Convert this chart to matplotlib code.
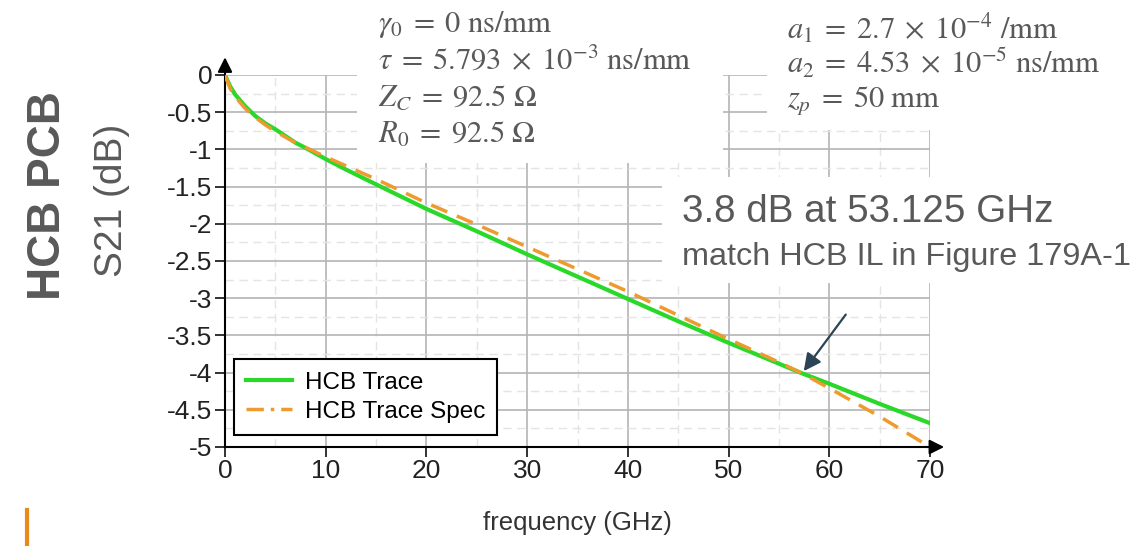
import numpy as np
import matplotlib
matplotlib.use("Agg")
import matplotlib.pyplot as plt
from matplotlib.patches import Rectangle
from matplotlib.lines import Line2D

plt.rcParams['font.family'] = ['Liberation Sans', 'DejaVu Sans']
plt.rcParams['mathtext.fontset'] = 'stix'

# data
freq_trace = [0, 0.5, 1, 1.5, 2, 3, 4, 5, 6, 7, 8, 10, 12, 15, 20, 25, 30, 35, 40, 45, 50, 55, 57.3, 60, 65, 70]
s21_trace = [0, -0.15, -0.26, -0.34, -0.42, -0.55, -0.65, -0.73, -0.82, -0.91, -0.98, -1.13, -1.27, -1.47,
             -1.80, -2.10, -2.41, -2.71, -3.01, -3.31, -3.60, -3.88, -4.01, -4.15, -4.42, -4.68]
freq_spec = [0, 0.5, 1, 2, 3, 4, 5, 7, 10, 15, 20, 25, 30, 35, 40, 45, 50, 55, 57.3, 60, 65, 70]
s21_spec = [0, -0.18, -0.29, -0.45, -0.57, -0.67, -0.76, -0.91, -1.10, -1.40, -1.72, -2.01, -2.31, -2.61,
            -2.91, -3.23, -3.55, -3.86, -4.01, -4.21, -4.59, -5.00]
xticks = [0, 10, 20, 30, 40, 50, 60, 70]
yticks = [0, -0.5, -1, -1.5, -2, -2.5, -3, -3.5, -4, -4.5, -5]
ytick_labels = ['0', '-0.5', '-1', '-1.5', '-2', '-2.5', '-3', '-3.5', '-4', '-4.5', '-5']

eq_left = [r'$\gamma_0 \;=\; 0\ \mathrm{ns/mm}$',
           r'$\tau \;=\; 5.793 \;\times\; 10^{-3}\ \mathrm{ns/mm}$',
           r'$Z_C \;=\; 92.5\ \Omega$',
           r'$R_0 \;=\; 92.5\ \Omega$']
eq_right = [r'$a_1 \;=\; 2.7 \;\times\; 10^{-4}\ \mathrm{/mm}$',
            r'$a_2 \;=\; 4.53 \;\times\; 10^{-5}\ \mathrm{ns/mm}$',
            r'$z_p \;=\; 50\ \mathrm{mm}$']

W, H = 1148, 546
fig = plt.figure(figsize=(W / 100, H / 100), dpi=100)
ax = fig.add_axes([225 / W, 1 - 447 / H, 705 / W, 372 / H])

green = '#2ad82a'
orange = '#ee9a2e'
grey = '#595959'

ax.plot(freq_trace, s21_trace, color=green, lw=3, zorder=3, label='HCB Trace')
ax.plot(freq_spec, s21_spec, color=orange, lw=2.5, ls=(0, (5, 3)), zorder=4)

ax.set_xlim(0, 70)
ax.set_ylim(-5, 0)
ax.set_xticks(xticks)
ax.set_xticks(np.arange(5, 70, 10), minor=True)
ax.set_yticks(yticks)
ax.set_yticklabels(ytick_labels)
ax.set_yticks(np.arange(-4.75, 0, 0.5), minor=True)
ax.tick_params(axis='both', which='major', labelsize=19, length=7, width=1.3, colors='#222222', pad=2)
ax.tick_params(axis='both', which='minor', length=0)
ax.set_axisbelow(True)
ax.grid(which='major', color='#b4b4b4', lw=1.2)
ax.grid(which='minor', color='#e4e4e4', lw=1, ls=(0, (6, 4)))
for s in ['top', 'right']:
    ax.spines[s].set_visible(False)
for s in ['left', 'bottom']:
    ax.spines[s].set_linewidth(1.5)

# axis arrows
ax.annotate('', xy=(0, 1.055), xytext=(0, 0.99), xycoords='axes fraction',
            arrowprops=dict(arrowstyle='-|>', color='k', lw=1.5, mutation_scale=22), annotation_clip=False)
ax.annotate('', xy=(1.024, 0), xytext=(0.99, 0), xycoords='axes fraction',
            arrowprops=dict(arrowstyle='-|>', color='k', lw=1.5, mutation_scale=22), annotation_clip=False)

# legend
h1 = Line2D([], [], color=green, lw=3)
h2 = Line2D([], [], color=orange, lw=2.5, ls=(0, (5, 2, 1, 2)))
leg = ax.legend([h1, h2], ['HCB Trace', 'HCB Trace Spec'], loc='lower left', bbox_to_anchor=(0.013, 0.032),
                borderaxespad=0, fontsize=17.5, frameon=True, fancybox=False, handlelength=1.9,
                handletextpad=0.5, borderpad=0.5, labelspacing=0.3, framealpha=1)
leg.get_frame().set_edgecolor('k')
leg.get_frame().set_linewidth(1.5)
leg.set_zorder(6)

# white boxes hiding the grid behind the text
for (x0, y0, x1, y1) in [(357, 0, 723, 163), (767, 0, 1148, 130), (662, 177, 1148, 283)]:
    fig.patches.append(Rectangle((x0 / W, 1 - y1 / H), (x1 - x0) / W, (y1 - y0) / H,
                                 transform=fig.transFigure, facecolor='white', edgecolor='none', zorder=2))

for i, t in enumerate(eq_left):
    fig.text(378 / W, 1 - (24 + 37 * i) / H, t, fontsize=22, color=grey, va='center', ha='left', zorder=3)
for i, t in enumerate(eq_right):
    fig.text(787 / W, 1 - (28 + 36 * i) / H, t, fontsize=22, color=grey, va='center', ha='left', zorder=3)

fig.text(682 / W, 1 - 212 / H, '3.8 dB at 53.125 GHz', fontsize=27.8, color=grey, va='center', ha='left', zorder=3)
fig.text(682 / W, 1 - 257 / H, 'match HCB IL in Figure 179A-1', fontsize=23.3, color=grey, va='center', ha='left', zorder=3)

ax.annotate('', xy=(57.3, -4.01), xytext=(61.8, -3.19),
            arrowprops=dict(arrowstyle='-|>', color='#2b4556', lw=1.6, mutation_scale=26), zorder=7)

# labels
fig.text(112 / W, 1 - 200 / H, 'S21 (dB)', fontsize=28, color=grey, rotation=90, va='center', ha='center')
fig.text(48 / W, 1 - 196 / H, 'HCB PCB', fontsize=33, color=grey, rotation=90, va='center', ha='center',
         fontweight='bold')
fig.text(577 / W, 1 - 523 / H, 'frequency (GHz)', fontsize=18.5, color='#333333', va='center', ha='center')

fig.lines.append(Line2D([27 / W, 27 / W], [0, 1 - 510 / H], transform=fig.transFigure, color='#e8891c', lw=3))

fig.savefig('out.png', dpi=100)
